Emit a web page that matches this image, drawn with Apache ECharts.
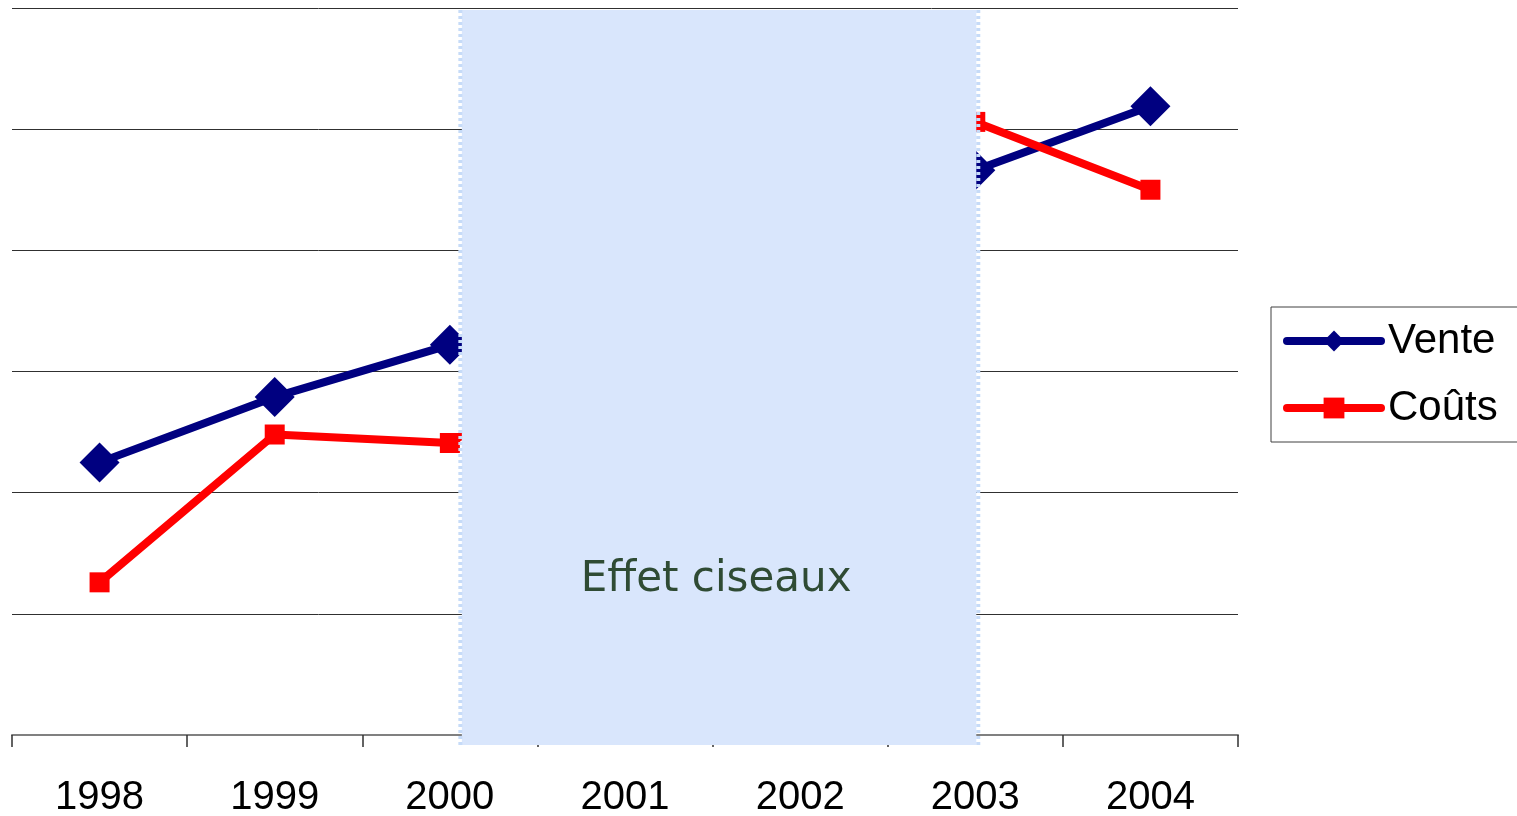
<!DOCTYPE html>
<html>
<head>
<meta charset="utf-8">
<script src="https://cdn.jsdelivr.net/npm/echarts@6/dist/echarts.min.js"></script>
<style>
html,body{margin:0;padding:0;background:#fff;}
#main{width:1517px;height:816px;}
</style>
</head>
<body>
<div id="main"></div>
<script>
var categories = ['1998', '1999', '2000', '2001', '2002', '2003', '2004'];
var vente = [2.25, 2.79, 3.22, 3.6, 4.1, 4.66, 5.19];
var couts = [1.26, 2.48, 2.41, 3.3, 4.4, 5.06, 4.5];
var seriesNames = ['Vente', 'Coûts'];
var annotationText = 'Effet ciseaux';

var chart = echarts.init(document.getElementById('main'), null, {renderer: 'canvas'});
var option = {
  animation: false,
  backgroundColor: '#ffffff',
  grid: {left: 12, right: 279, top: 8, bottom: 81, containLabel: false, outerBoundsMode: 'none'},
  xAxis: {
    type: 'category',
    data: categories,
    boundaryGap: true,
    axisLine: {show: true, lineStyle: {color: '#808080', width: 2}},
    axisTick: {show: true, interval: 0, length: 12, lineStyle: {color: '#303030', width: 1.5}},
    axisLabel: {color: '#000', fontFamily: 'Liberation Sans', fontSize: 40, margin: 43},
    splitLine: {show: false}
  },
  yAxis: {
    type: 'value',
    min: 0, max: 6, interval: 1,
    axisLine: {show: false},
    axisTick: {show: false},
    axisLabel: {show: false},
    splitLine: {show: true, lineStyle: {color: '#303030', width: 1}}
  },
  legend: {
    orient: 'vertical',
    left: 1271, top: 307,
    padding: [13, 40, 13, 12],
    itemGap: 25,
    itemWidth: 94, itemHeight: 26,
    borderColor: '#404040', borderWidth: 1,
    lineStyle: {width: 8, cap: 'round'},
    textStyle: {fontFamily: 'Liberation Sans', fontSize: 42, color: '#000', padding: [7, 0, 0, 2]},
    data: seriesNames
  },
  series: [
    {
      name: seriesNames[0], type: 'line', data: vente,
      symbol: 'diamond', symbolSize: 40,
      lineStyle: {color: '#000080', width: 8, cap: 'round'},
      itemStyle: {color: '#000080'}
    },
    {
      name: seriesNames[1], type: 'line', data: couts,
      symbol: 'rect', symbolSize: 20,
      lineStyle: {color: '#ff0000', width: 8, cap: 'round'},
      itemStyle: {color: '#ff0000'}
    }
  ]
};
chart.setOption(option);

var xL = chart.convertToPixel({xAxisIndex: 0}, '2000') + 12;
var xR = chart.convertToPixel({xAxisIndex: 0}, '2003') + 1;
var yT = chart.convertToPixel({yAxisIndex: 0}, 6) + 2;
var yB = chart.convertToPixel({yAxisIndex: 0}, 0) + 10;
var yText = chart.convertToPixel({yAxisIndex: 0}, 1.28);
chart.setOption({
  graphic: [
    {type: 'rect', z: 100, shape: {x: xL, y: yT, width: xR - xL, height: yB - yT}, style: {fill: '#d9e6fc'}},
    {type: 'line', z: 101, shape: {x1: xL - 1.5, y1: yT, x2: xL - 1.5, y2: yB}, style: {stroke: '#c6dbf8', lineWidth: 4, lineDash: [3, 3]}},
    {type: 'line', z: 101, shape: {x1: xR + 2, y1: yT, x2: xR + 2, y2: yB}, style: {stroke: '#c6dbf8', lineWidth: 4, lineDash: [3, 3]}},
    {type: 'text', z: 102, x: (xL + xR) / 2 - 3, y: yText,
     style: {text: annotationText, fill: '#2f4b34', font: '42px "DejaVu Sans"', textAlign: 'center', textVerticalAlign: 'middle'}}
  ]
});
</script>
</body>
</html>
